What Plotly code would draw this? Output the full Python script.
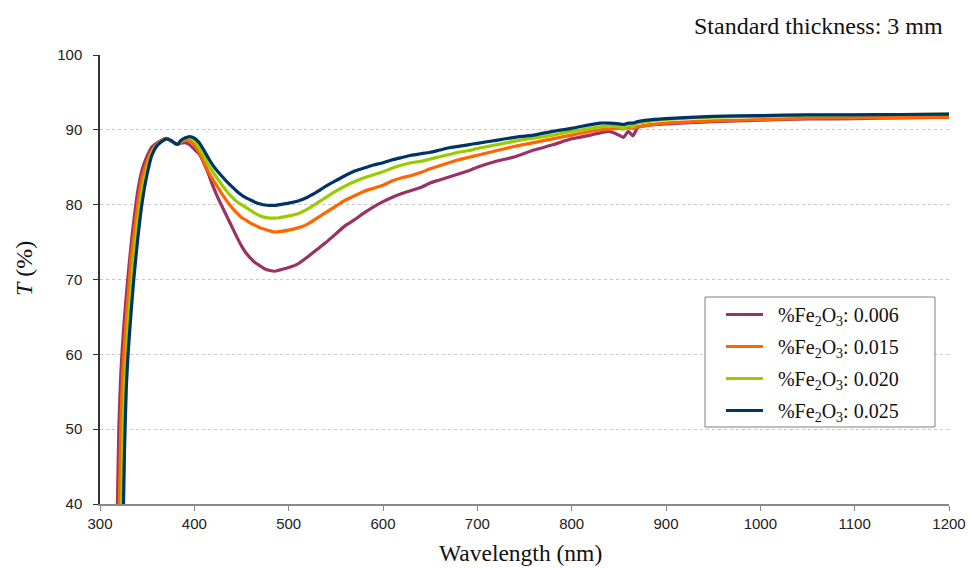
import plotly.graph_objects as go

wavelength = [316, 318, 320, 322, 324, 326, 328, 330, 333, 336, 340, 345, 350, 355, 360, 365, 370,
              375, 380, 383, 385, 390, 395, 400, 405, 410, 415, 420, 425, 430, 435, 440, 445, 450,
              455, 460, 465, 470, 475, 480, 485, 490, 500, 510, 520, 530, 540, 550, 560, 570, 580,
              590, 600, 610, 620, 630, 640, 650, 660, 670, 680, 690, 700, 720, 740, 760, 780, 800,
              820, 830, 840, 850, 855, 860, 865, 870, 880, 900, 950, 1000, 1050, 1100, 1150, 1200]

fe_006 = [22, 36.3, 50.3, 57.2, 61.5, 65, 68, 70.8, 74.7, 78, 81.8, 84.8, 86.5, 87.7, 88.2, 88.6, 88.85,
          88.6, 88.15, 88.1, 88.2, 88.3, 88.0, 87.4, 86.8, 85.6, 84.1, 82.4, 80.9, 79.6, 78.3, 77.0, 75.7, 74.5,
          73.5, 72.8, 72.2, 71.8, 71.4, 71.2, 71.1, 71.25, 71.6, 72.1, 73.0, 74.0, 75.0, 76.1, 77.2, 78.0, 78.9,
          79.7, 80.4, 81.0, 81.5, 81.9, 82.3, 82.9, 83.3, 83.7, 84.1, 84.5, 85.0, 85.8, 86.4, 87.3, 88.0, 88.8,
          89.3, 89.6, 89.8, 89.3, 89.0, 89.8, 89.2, 90.3, 90.6, 90.8, 91.1, 91.3, 91.45, 91.5, 91.6, 91.7]

fe_015 = [10, 22, 36.3, 50.3, 57.2, 61.5, 65, 68, 72.9, 76, 80, 83.8, 85.8, 87.2, 88.0, 88.5, 88.85,
          88.6, 88.15, 88.1, 88.3, 88.6, 88.5, 88.0, 87.0, 85.8, 84.4, 83.3, 82.3, 81.3, 80.4, 79.6, 78.9, 78.3,
          77.9, 77.5, 77.2, 76.9, 76.7, 76.5, 76.35, 76.4, 76.6, 76.9, 77.4, 78.2, 79.0, 79.8, 80.6, 81.2, 81.8,
          82.2, 82.6, 83.2, 83.6, 83.9, 84.3, 84.8, 85.2, 85.6, 86.0, 86.3, 86.6, 87.2, 87.8, 88.3, 88.8, 89.3,
          89.8, 90.0, 90.1, 90.2, 90.1, 90.3, 90.2, 90.4, 90.6, 90.9, 91.2, 91.35, 91.55, 91.6, 91.65, 91.7]

fe_020 = [5, 8, 18.5, 33, 47.3, 55.9, 59.5, 64.3, 68.8, 73.2, 77.7, 82.1, 84.9, 86.9, 87.9, 88.4, 88.8,
          88.6, 88.15, 88.1, 88.4, 88.8, 88.9, 88.5, 87.6, 86.5, 85.3, 84.3, 83.4, 82.5, 81.7, 81.0, 80.4, 80.0,
          79.6, 79.2, 78.8, 78.5, 78.3, 78.2, 78.2, 78.25, 78.5, 78.8, 79.4, 80.2, 81.0, 81.8, 82.5, 83.1, 83.6,
          84.0, 84.4, 84.9, 85.3, 85.6, 85.8, 86.1, 86.4, 86.7, 87.0, 87.2, 87.5, 88.0, 88.5, 88.9, 89.3, 89.8,
          90.2, 90.4, 90.5, 90.4, 90.2, 90.6, 90.4, 90.9, 91.1, 91.4, 91.7, 91.8, 91.95, 92.0, 92.05, 92.1]

fe_025 = [0, 2, 8, 18.5, 33, 47.3, 55.9, 60.5, 65.7, 70.3, 75.4, 80.6, 84.1, 86.6, 87.8, 88.4, 88.8,
          88.6, 88.15, 88.1, 88.5, 88.9, 89.1, 88.9, 88.3, 87.3, 86.2, 85.2, 84.4, 83.7, 83.0, 82.4, 81.8, 81.3,
          80.9, 80.6, 80.3, 80.1, 79.95, 79.9, 79.9, 80.0, 80.2, 80.5, 81.0, 81.7, 82.5, 83.2, 83.9, 84.5, 84.9,
          85.3, 85.6, 86.0, 86.3, 86.6, 86.8, 87.0, 87.3, 87.6, 87.8, 88.0, 88.2, 88.6, 89.0, 89.3, 89.8, 90.2,
          90.7, 90.9, 90.9, 90.8, 90.7, 90.9, 90.9, 91.1, 91.3, 91.5, 91.8, 91.9, 92.0, 92.0, 92.05, 92.1]

series_names = ["%Fe<sub>2</sub>O<sub>3</sub>: 0.006", "%Fe<sub>2</sub>O<sub>3</sub>: 0.015",
                "%Fe<sub>2</sub>O<sub>3</sub>: 0.020", "%Fe<sub>2</sub>O<sub>3</sub>: 0.025"]
series_values = [fe_006, fe_015, fe_020, fe_025]
series_colors = ["#993366", "#FF6600", "#99CC00", "#003366"]

x_ticks = [300, 400, 500, 600, 700, 800, 900, 1000, 1100, 1200]
y_ticks = [40, 50, 60, 70, 80, 90, 100]

LEAD = "\u00a0\u00a0"

fig = go.Figure()
for i, (name, vals, col) in enumerate(zip(series_names, series_values, series_colors)):
    fig.add_trace(go.Scatter(x=wavelength, y=vals, mode="lines", name=LEAD + name,
                             legendgroup=f"g{i}",
                             line=dict(color=col, width=3.2, shape="spline", smoothing=0.5)))

serif = "Liberation Serif, Times New Roman, serif"
sans = "Liberation Sans, Arial, sans-serif"

fig.update_layout(
    width=968, height=568,
    margin=dict(l=100, r=19, t=55, b=64, autoexpand=False),
    paper_bgcolor="white", plot_bgcolor="white",
    showlegend=True,
    legend=dict(x=0.7314, y=0.4655, xanchor="left", yanchor="top",
                borderwidth=0, bgcolor="rgba(0,0,0,0)",
                font=dict(family=serif, size=20, color="#111"),
                tracegroupgap=3, itemwidth=37),
    shapes=[dict(type="rect", xref="paper", yref="paper",
                 x0=0.7126, x1=0.9835, y0=0.1715, y1=0.461,
                 line=dict(color="#7f7f7f", width=1), fillcolor="white", layer="above")],
    annotations=[
        dict(text="Standard thickness: 3 mm", xref="paper", yref="paper",
             x=1.0, y=1.0, xanchor="right", yanchor="bottom", yshift=14, xshift=-4,
             showarrow=False, font=dict(family=serif, size=24, color="#111")),
        dict(text="Wavelength (nm)", xref="paper", yref="paper",
             x=0.4947, y=-0.109, xanchor="center", yanchor="middle",
             showarrow=False, font=dict(family=serif, size=23.5, color="#111")),
        dict(text="<i>T</i> (%)", xref="paper", yref="paper",
             x=-0.0895, y=0.5234, xanchor="center", yanchor="middle", textangle=-90,
             showarrow=False, font=dict(family=serif, size=24, color="#111")),
    ],
)

fig.update_xaxes(range=[300, 1200], tickvals=x_ticks, ticks="outside", ticklen=5,
                 tickcolor="#888", showline=True, linecolor="#888", linewidth=1.5,
                 showgrid=False, zeroline=False, automargin=False,
                 tickfont=dict(family=sans, size=15, color="#222"))
fig.update_yaxes(range=[40, 100], tickvals=y_ticks, ticks="outside", ticklen=5,
                 tickcolor="#333", showline=True, linecolor="#333", linewidth=1.5,
                 showgrid=True, gridcolor="#c8c8c8", griddash="dot", gridwidth=1,
                 zeroline=False, automargin=False, ticklabelstandoff=8,
                 tickfont=dict(family=sans, size=15, color="#222"))

fig.write_html("out.html")
